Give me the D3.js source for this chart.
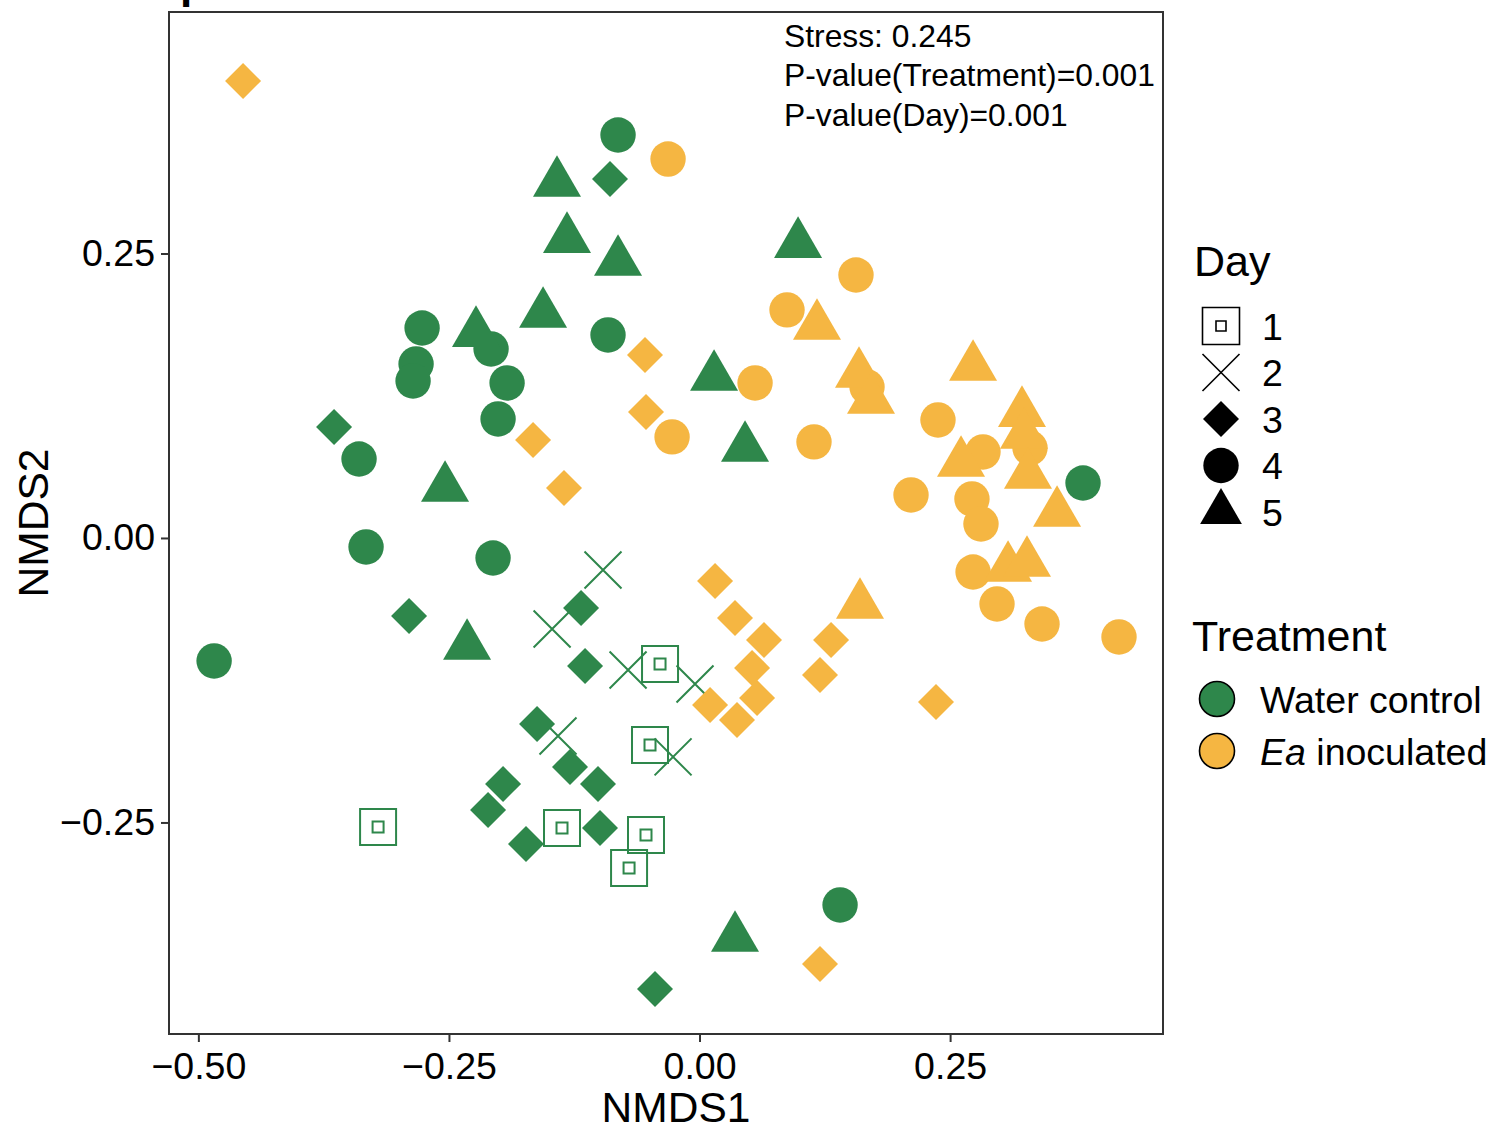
<!DOCTYPE html>
<html>
<head>
<meta charset="utf-8">
<script src="https://cdn.jsdelivr.net/npm/d3@7"></script>
<style>
  body { margin: 0; background: #fff; }
  text { font-family: "Liberation Sans", Arial, Helvetica, sans-serif; }
</style>
</head>
<body>
<svg id="chart" width="1490" height="1130"></svg>
<script>
// NMDS scores, one array per treatment / day
const waterDay1 = [[-0.0394,-0.1107],[-0.0494,-0.1819],[-0.3207,-0.2540],[-0.1372,-0.2548],[-0.0534,-0.2610],[-0.0703,-0.2900]];
const waterDay2 = [[-0.0963,-0.0281],[-0.1471,-0.0800],[-0.0713,-0.1160],[-0.0045,-0.1283],[-0.1412,-0.1740],[-0.0264,-0.1924]];
const waterDay3 = [[-0.0893,0.3155],[-0.3646,0.0975],[-0.2898,-0.0685],[-0.1182,-0.0615],[-0.1142,-0.1125],[-0.1621,-0.1634],
                   [-0.1292,-0.2012],[-0.1960,-0.2162],[-0.1013,-0.2162],[-0.2110,-0.2390],[-0.0993,-0.2548],[-0.1731,-0.2689],[-0.0444,-0.3963]];
const waterDay4 = [[-0.0813,0.3541],[-0.2768,0.1845],[-0.0913,0.1784],[-0.2080,0.1661],[-0.2828,0.1529],[-0.2858,0.1380],[-0.1920,0.1362],
                   [-0.2010,0.1046],[-0.3397,0.0694],[-0.3327,-0.0079],[-0.2060,-0.0176],[-0.4843,-0.1081],[0.3826,0.0483],[0.1402,-0.3225]];
const waterDay5 = [[-0.1422,0.3120],[-0.1322,0.2627],[-0.0813,0.2425],[0.0983,0.2583],[-0.2230,0.1801],[-0.1561,0.1968],
                   [0.0145,0.1415],[0.0454,0.0791],[-0.2539,0.0439],[-0.2319,-0.0949],[0.0354,-0.3515]];
const eaDay3 = [[-0.4554,0.4016],[-0.0544,0.1608],[-0.0534,0.1107],[-0.1661,0.0861],[-0.1352,0.0439],[0.0155,-0.0378],[0.0354,-0.0703],
                [0.0643,-0.0896],[0.1312,-0.0896],[0.0524,-0.1142],[0.1202,-0.1204],[0.0105,-0.1467],[0.0574,-0.1406],[0.0374,-0.1599],
                [0.2359,-0.1441],[0.1202,-0.3743]];
const eaDay4 = [[-0.0314,0.3330],[0.1561,0.2311],[0.0873,0.2004],[0.0554,0.1362],[0.1671,0.1327],[-0.0274,0.0888],[0.1142,0.0844],
                [0.2379,0.1037],[0.2828,0.0756],[0.3297,0.0791],[0.2110,0.0378],[0.2718,0.0343],[0.2808,0.0123],[0.2729,-0.0299],
                [0.2968,-0.0580],[0.3417,-0.0756],[0.4185,-0.0870]];
const eaDay5 = [[0.1172,0.1863],[0.1591,0.1441],[0.1711,0.1213],[0.2729,0.1503],[0.3217,0.1098],[0.3237,0.0905],[0.2609,0.0659],
                [0.3277,0.0554],[0.3567,0.0220],[0.3078,-0.0264],[0.3267,-0.0220],[0.1601,-0.0589]];

const days = ["1", "2", "3", "4", "5"];
const treatments = ["Water control", "Ea inoculated"];
const xTicks = [-0.5, -0.25, 0, 0.25];
const yTicks = [-0.25, 0, 0.25];
const statLines = ["Stress: 0.245", "P-value(Treatment)=0.001", "P-value(Day)=0.001"];

const groups = [
  {treat: 0, day: "1", pts: waterDay1},
  {treat: 0, day: "2", pts: waterDay2},
  {treat: 0, day: "3", pts: waterDay3},
  {treat: 0, day: "4", pts: waterDay4},
  {treat: 0, day: "5", pts: waterDay5},
  {treat: 1, day: "3", pts: eaDay3},
  {treat: 1, day: "4", pts: eaDay4},
  {treat: 1, day: "5", pts: eaDay5}
];

const colors = d3.scaleOrdinal().domain([0, 1]).range(["#2e874b", "#f5b642"]);

const svg = d3.select("#chart");
const panel = {left: 169, top: 12, right: 1163, bottom: 1034};

const x = d3.scaleLinear().domain([-0.5293, 0.4624]).range([panel.left, panel.right]);
const y = d3.scaleLinear().domain([-0.4359, 0.4622]).range([panel.bottom, panel.top]);

// shape paths for each day (k scales legend keys)
function shapePath(day, k) {
  k = k || 1;
  if (day === "1") {
    const a = 18 * k, b = 5.5 * k;
    return `M${-a},${-a}H${a}V${a}H${-a}Z M${-b},${-b}H${b}V${b}H${-b}Z`;
  }
  if (day === "2") {
    const a = 18.5 * k;
    return `M${-a},${-a}L${a},${a}M${-a},${a}L${a},${-a}`;
  }
  if (day === "3") {
    const a = 18 * k;
    return `M0,${-a}L${a},0L0,${a}L${-a},0Z`;
  }
  if (day === "4") {
    return d3.symbol(d3.symbolCircle, Math.PI * 17.7 * 17.7 * k * k)();
  }
  return d3.symbol(d3.symbolTriangle, 998 * k * k)();
}
const isOpen = d => d === "1" || d === "2";

// panel label (cut off in the original)
svg.append("text")
  .attr("x", 180).attr("y", -2)
  .attr("font-size", 44).attr("font-weight", "bold")
  .text("p");

// points
groups.forEach(g => {
  svg.append("g").selectAll("path")
    .data(g.pts)
    .enter().append("path")
    .attr("transform", d => `translate(${x(d[0])},${y(d[1])})`)
    .attr("d", shapePath(g.day))
    .attr("fill", isOpen(g.day) ? "none" : colors(g.treat))
    .attr("stroke", isOpen(g.day) ? colors(g.treat) : "none")
    .attr("stroke-width", 2);
});

// panel border
svg.append("rect")
  .attr("x", panel.left).attr("y", panel.top)
  .attr("width", panel.right - panel.left).attr("height", panel.bottom - panel.top)
  .attr("fill", "none").attr("stroke", "#333").attr("stroke-width", 2);

// axes
const xAxis = svg.append("g")
  .attr("transform", `translate(0,${panel.bottom})`)
  .call(d3.axisBottom(x).tickValues(xTicks).tickFormat(d3.format(".2f")).tickSize(8).tickPadding(10));
const yAxis = svg.append("g")
  .attr("transform", `translate(${panel.left},0)`)
  .call(d3.axisLeft(y).tickValues(yTicks).tickFormat(d3.format(".2f")).tickSize(8).tickPadding(6));
[xAxis, yAxis].forEach(a => {
  a.select(".domain").remove();
  a.selectAll("line").attr("stroke", "#333").attr("stroke-width", 2);
  a.selectAll("text").attr("font-size", 37.5).attr("fill", "#000")
    .attr("font-family", '"Liberation Sans", Arial, sans-serif');
});

svg.append("text")
  .attr("x", (panel.left + panel.right) / 2 + 10).attr("y", 1122)
  .attr("text-anchor", "middle").attr("font-size", 42.5)
  .text("NMDS1");
svg.append("text")
  .attr("transform", `translate(48,${(panel.top + panel.bottom) / 2}) rotate(-90)`)
  .attr("text-anchor", "middle").attr("font-size", 42.5)
  .text("NMDS2");

// stress / p-value annotation
svg.append("g").selectAll("text")
  .data(statLines)
  .enter().append("text")
  .attr("x", 784)
  .attr("y", (d, i) => [46.5, 85.5, 126][i])
  .attr("font-size", 31.8)
  .text(d => d);

// legend: Day
svg.append("text").attr("x", 1194).attr("y", 276).attr("font-size", 43).text("Day");
const dayRows = d3.scalePoint().domain(days).range([326, 512]);
const dayKeys = svg.append("g").selectAll("g")
  .data(days).enter().append("g")
  .attr("transform", d => `translate(1221,${dayRows(d)})`);
dayKeys.append("path")
  .attr("d", d => d === "1" ? `M-18.5,-18.5H18.5V18.5H-18.5Z M-5,-5H5V5H-5Z` : shapePath(d, d === "5" ? 0.87 : 1))
  .attr("fill", d => isOpen(d) ? "none" : "#000")
  .attr("stroke", d => isOpen(d) ? "#000" : "none")
  .attr("stroke-width", 1.6);
dayKeys.append("text")
  .attr("x", 41).attr("dy", "0.36em")
  .attr("font-size", 37.5)
  .text(d => d);

// legend: Treatment
svg.append("text").attr("x", 1192).attr("y", 651).attr("font-size", 43).text("Treatment");
const treatRows = d3.scalePoint().domain([0, 1]).range([699, 751]);
const treatKeys = svg.append("g").selectAll("g")
  .data([0, 1]).enter().append("g")
  .attr("transform", d => `translate(1217,${treatRows(d)})`);
treatKeys.append("circle")
  .attr("r", 17.5)
  .attr("fill", d => colors(d))
  .attr("stroke", "#000").attr("stroke-width", 1.6);
const tLabels = treatKeys.append("text")
  .attr("x", 43).attr("dy", "0.36em")
  .attr("font-size", 37.5);
tLabels.filter(d => d === 0).text(treatments[0]);
tLabels.filter(d => d === 1).each(function() {
  const t = d3.select(this);
  const parts = treatments[1].split(" ");
  t.append("tspan").attr("font-style", "italic").text(parts[0]);
  t.append("tspan").text(" " + parts.slice(1).join(" "));
});
</script>
</body>
</html>
